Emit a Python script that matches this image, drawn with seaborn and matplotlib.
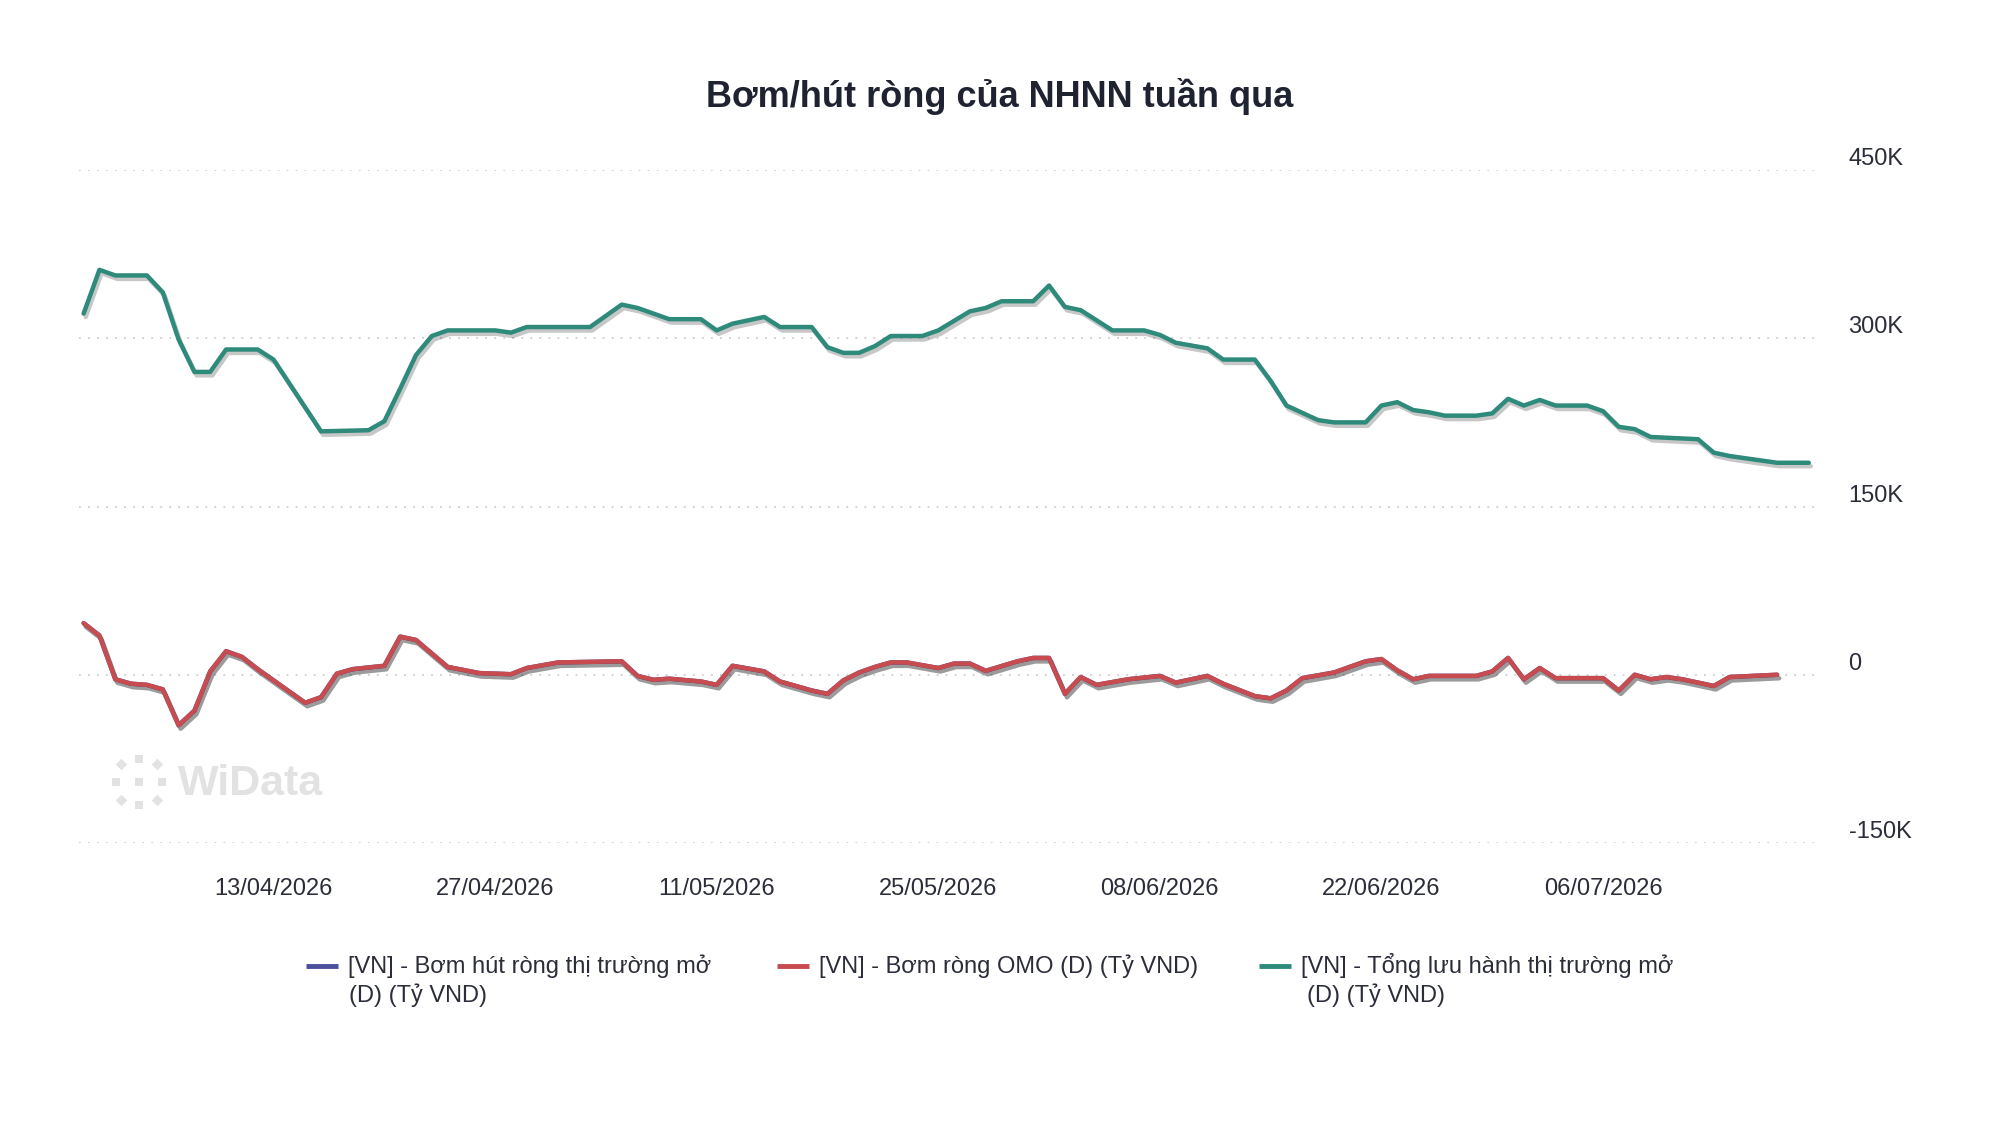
import numpy as np
import pandas as pd
import seaborn as sns
import matplotlib.pyplot as plt
import matplotlib.dates as mdates
import matplotlib.patheffects as pe
from matplotlib.ticker import FuncFormatter

# values, in thousand ty VND
total_dates = [
    "2026-04-01", "2026-04-02", "2026-04-03", "2026-04-05", "2026-04-06", "2026-04-07",
    "2026-04-08", "2026-04-09", "2026-04-10", "2026-04-12", "2026-04-13", "2026-04-16",
    "2026-04-19", "2026-04-20", "2026-04-21", "2026-04-22", "2026-04-23", "2026-04-24",
    "2026-04-27", "2026-04-28", "2026-04-29", "2026-05-03", "2026-05-05", "2026-05-06",
    "2026-05-08", "2026-05-10", "2026-05-11", "2026-05-12", "2026-05-14", "2026-05-15",
    "2026-05-17", "2026-05-18", "2026-05-19", "2026-05-20", "2026-05-21", "2026-05-22",
    "2026-05-24", "2026-05-25", "2026-05-27", "2026-05-28", "2026-05-29", "2026-05-31",
    "2026-06-01", "2026-06-02", "2026-06-03", "2026-06-05", "2026-06-07", "2026-06-08",
    "2026-06-09", "2026-06-11", "2026-06-12", "2026-06-14", "2026-06-15", "2026-06-16",
    "2026-06-18", "2026-06-19", "2026-06-21", "2026-06-22", "2026-06-23", "2026-06-24",
    "2026-06-25", "2026-06-26", "2026-06-28", "2026-06-29", "2026-06-30", "2026-07-01",
    "2026-07-02", "2026-07-03", "2026-07-05", "2026-07-06", "2026-07-07", "2026-07-08",
    "2026-07-09", "2026-07-12", "2026-07-13", "2026-07-14", "2026-07-17", "2026-07-19",
]
total_values = [
    322, 361, 356, 356, 341, 299,
    270, 270, 290, 290, 281, 217,
    218, 226, 255, 285, 302, 307,
    307, 305, 310, 310, 330, 327,
    317, 317, 307, 313, 319, 310,
    310, 292, 287, 287, 293, 302,
    302, 307, 324, 327, 333, 333,
    347, 328, 325, 307, 307, 303,
    296, 291, 281, 281, 262, 240,
    227, 225, 225, 240, 243, 236,
    234, 231, 231, 233, 246, 240,
    245, 240, 240, 235, 221, 219,
    212, 210, 198, 195, 189, 189,
]

omo_dates = [
    "2026-04-01", "2026-04-02", "2026-04-03", "2026-04-04", "2026-04-05", "2026-04-06",
    "2026-04-07", "2026-04-08", "2026-04-09", "2026-04-10", "2026-04-11", "2026-04-12",
    "2026-04-13", "2026-04-15", "2026-04-16", "2026-04-17", "2026-04-18", "2026-04-20",
    "2026-04-21", "2026-04-22", "2026-04-24", "2026-04-26", "2026-04-28", "2026-04-29",
    "2026-05-01", "2026-05-05", "2026-05-06", "2026-05-07", "2026-05-08", "2026-05-10",
    "2026-05-11", "2026-05-12", "2026-05-14", "2026-05-15", "2026-05-17", "2026-05-18",
    "2026-05-19", "2026-05-20", "2026-05-21", "2026-05-22", "2026-05-23", "2026-05-25",
    "2026-05-26", "2026-05-27", "2026-05-28", "2026-05-30", "2026-05-31", "2026-06-01",
    "2026-06-02", "2026-06-03", "2026-06-04", "2026-06-06", "2026-06-08", "2026-06-09",
    "2026-06-11", "2026-06-12", "2026-06-14", "2026-06-15", "2026-06-16", "2026-06-17",
    "2026-06-19", "2026-06-21", "2026-06-22", "2026-06-23", "2026-06-24", "2026-06-25",
    "2026-06-28", "2026-06-29", "2026-06-30", "2026-07-01", "2026-07-02", "2026-07-03",
    "2026-07-06", "2026-07-07", "2026-07-08", "2026-07-09", "2026-07-10", "2026-07-11",
    "2026-07-13", "2026-07-14", "2026-07-17",
]
omo_values = [
    46, 35, -4, -8, -9, -13,
    -45, -32, 3, 21, 16, 5,
    -5, -25, -20, 1, 5, 8,
    34, 31, 7, 1.5, 0.5, 6,
    11, 12, -1, -4.5, -3.5, -6,
    -9, 8, 3, -6, -14, -17,
    -5, 2, 7, 11, 11, 6,
    10, 10, 3.5, 12, 15, 15,
    -17, -2, -9, -4, -1, -7,
    -1, -8, -19, -21, -14, -3,
    2, 12, 14, 4, -4, -1,
    -1, 3, 15, -4, 6, -3,
    -3, -14, 0, -4, -2, -4,
    -10, -2, 0,
]
# net open-market series sits exactly under the OMO line
net_dates = omo_dates
net_values = omo_values

series_names = [
    "[VN] - Bơm hút ròng thị trường mở (D) (Tỷ VND)",
    "[VN] - Bơm ròng OMO (D) (Tỷ VND)",
    "[VN] - Tổng lưu hành thị trường mở (D) (Tỷ VND)",
]
legend_lines = [
    ["[VN] - Bơm hút ròng thị trường mở", "(D) (Tỷ VND)"],
    ["[VN] - Bơm ròng OMO (D) (Tỷ VND)"],
    ["[VN] - Tổng lưu hành thị trường mở", "(D) (Tỷ VND)"],
]
series_colors = ["#4a4f9e", "#c84b50", "#2e8a7a"]
tick_dates = ["2026-04-13", "2026-04-27", "2026-05-11", "2026-05-25",
              "2026-06-08", "2026-06-22", "2026-07-06"]
y_ticks = [-150000, 0, 150000, 300000, 450000]

frames = []
for name, dates, vals in zip(series_names,
                             [net_dates, omo_dates, total_dates],
                             [net_values, omo_values, total_values]):
    frames.append(pd.DataFrame({
        "date": pd.to_datetime(dates),
        "value": np.array(vals, dtype=float) * 1000,
        "series": name,
    }))
df = pd.concat(frames, ignore_index=True)

sns.set_style("white")
plt.rcParams["font.family"] = ["Liberation Sans", "DejaVu Sans"]
text_color = "#2b2d3a"

fig = plt.figure(figsize=(20, 11.44), dpi=100)

# background layer in pixel coords for watermark and legend
ax_bg = fig.add_axes([0, 0, 1, 1], zorder=0)
ax_bg.set_xlim(0, 2000)
ax_bg.set_ylim(1144, 0)
ax_bg.axis("off")

ax = fig.add_axes([0.0395, 0.2631, 0.8695, 0.5883], zorder=1)
ax.set_facecolor("none")

sns.lineplot(
    data=df, x="date", y="value", hue="series",
    hue_order=series_names, palette=dict(zip(series_names, series_colors)),
    estimator=None, linewidth=3.2, legend=False, ax=ax,
)
for line in ax.lines:
    line.set_solid_joinstyle("round")
    line.set_solid_capstyle("round")
    line.set_path_effects([
        pe.SimpleLineShadow(offset=(1.5, -2.5), shadow_color="black", alpha=0.22),
        pe.Normal(),
    ])

ax.set_xlim(pd.Timestamp("2026-03-31 17:00"), pd.Timestamp("2026-07-19 14:00"))
ax.set_ylim(-150000, 450000)
ax.set_yticks(y_ticks)
ax.yaxis.set_major_formatter(FuncFormatter(lambda v, _: "0" if v == 0 else f"{v/1000:.0f}K"))
ax.yaxis.tick_right()
ax.set_xticks(pd.to_datetime(tick_dates))
ax.xaxis.set_major_formatter(mdates.DateFormatter("%d/%m/%Y"))
ax.tick_params(axis="x", length=0, pad=25, labelsize=17, labelcolor=text_color)
ax.tick_params(axis="y", length=0, pad=22, labelsize=17, labelcolor=text_color)
for lab in ax.get_yticklabels():
    lab.set_verticalalignment("bottom")
ax.set_xlabel("")
ax.set_ylabel("")
ax.grid(False)
ax.yaxis.grid(True, linestyle=(0, (1, 4)), color="#cfcfcf", linewidth=1.3)
sns.despine(ax=ax, left=True, bottom=True, right=True, top=True)

fig.text(0.5, 0.916, "Bơm/hút ròng của NHNN tuần qua", ha="center", va="center",
         fontsize=26, fontweight="bold", color="#1f2230")

# watermark
wm_color = "#e2e2e2"
ang = np.arange(8) * np.pi / 4
ax_bg.scatter(139 + 23 * np.cos(ang[::2]), 782 + 23 * np.sin(ang[::2]),
              marker="s", s=40, color=wm_color, linewidths=0)
ax_bg.scatter(139 + 25 * np.cos(ang[1::2]), 782 + 25 * np.sin(ang[1::2]),
              marker="D", s=34, color=wm_color, linewidths=0)
ax_bg.scatter([139], [782], marker="s", s=40, color=wm_color, linewidths=0)
ax_bg.text(178, 784, "WiData", fontsize=31, fontweight="bold", color=wm_color,
           ha="left", va="center")

# legend drawn by hand so the swatch lines up with the first text line
leg_x = [306, 777, 1259]
leg_indent = [1, 0, 6]
for x0, color, lines, ind in zip(leg_x, series_colors, legend_lines, leg_indent):
    ax_bg.plot([x0, x0 + 32], [966, 966], color=color, linewidth=3.5,
               solid_capstyle="butt")
    for i, txt in enumerate(lines):
        ax_bg.text(x0 + 42 + (ind if i else 0), 966 + 29 * i, txt, fontsize=17,
                   color=text_color, ha="left", va="center")

fig.savefig("out.png", dpi=100)
